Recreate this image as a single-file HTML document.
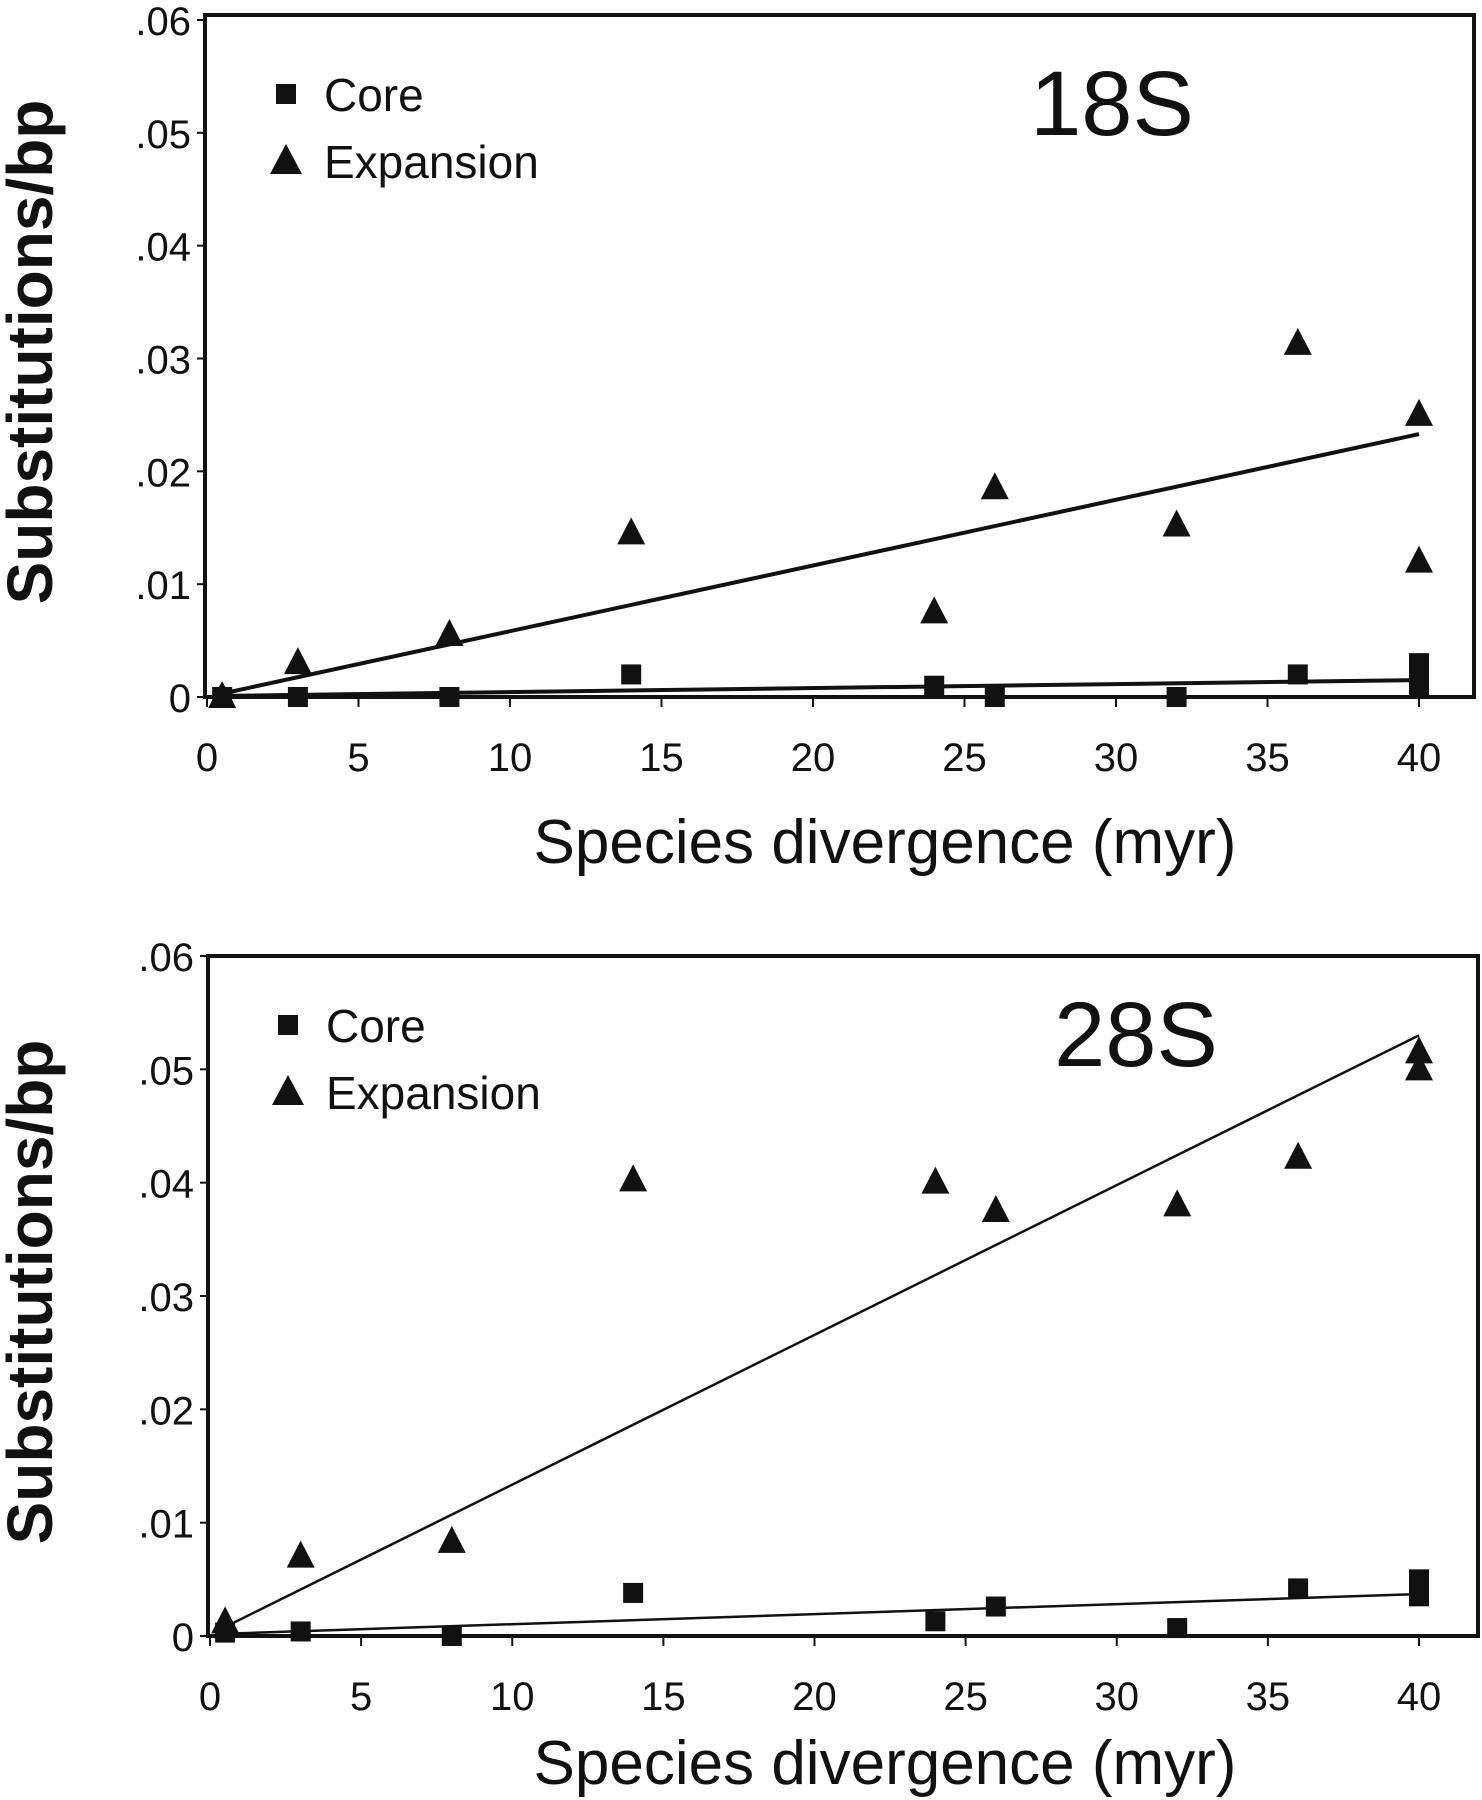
<!DOCTYPE html>
<html><head><meta charset="utf-8"><style>
html,body{margin:0;padding:0;background:#fff}
svg{display:block}
text{font-family:"Liberation Sans Narrow","Liberation Sans",sans-serif;fill:#111}
</style></head><body>
<svg id="fig" width="1482" height="1800" viewBox="0 0 1482 1800" xmlns="http://www.w3.org/2000/svg"></svg>
<script>
const xTicks = [0,5,10,15,20,25,30,35,40];
const yTicks = [0,0.01,0.02,0.03,0.04,0.05,0.06];
const yTickLabels = ["0",".01",".02",".03",".04",".05",".06"];
// 18S
const s18CoreX = [0.5,3,8,14,24,26,32,36,40,40,40];
const s18CoreY = [0,0,0,0.002,0.001,0,0,0.002,0.003,0.0015,0.001];
const s18ExpX = [0.5,3,8,14,24,26,32,36,40,40];
const s18ExpY = [0,0.003,0.0055,0.0145,0.0075,0.0185,0.0152,0.0313,0.025,0.012];
const s18ExpFit = [[0.5,0.0003],[40,0.0233]];
const s18CoreFit = [[0.5,0.0001],[40,0.0015]];
// 28S
const s28CoreX = [0.5,3,8,14,24,26,32,36,40,40];
const s28CoreY = [0.0003,0.0004,0,0.0038,0.0013,0.0026,0.0007,0.0042,0.005,0.0035];
const s28ExpX = [0.5,3,8,14,24,26,32,36,40,40];
const s28ExpY = [0.0012,0.007,0.0083,0.0402,0.04,0.0375,0.038,0.0422,0.0515,0.05];
const s28ExpFit = [[0.5,0.0008],[40,0.053]];
const s28CoreFit = [[0.5,0.0002],[40,0.0037]];

const NS="http://www.w3.org/2000/svg";
const svg=document.getElementById('fig');
function mk(tag,attrs,parent){const e=document.createElementNS(NS,tag);for(const k in attrs)e.setAttribute(k,attrs[k]);(parent||svg).appendChild(e);return e;}

function panel(cfg){
  const g=mk('g',{});
  
  
  const sx=v=>cfg.x0+(cfg.x40-cfg.x0)*v/40;
  const sy=v=>cfg.y0+(cfg.y6-cfg.y0)*v/0.06;
  const frame=mk('rect',{x:cfg.x0-2,y:cfg.top,width:cfg.right-cfg.x0+2,height:cfg.y0-cfg.top,fill:'none',stroke:'#111','stroke-width':4},g);
  
  
  yTicks.forEach((t,i)=>{
    const y=sy(t);
    mk('line',{x1:cfg.x0-10,x2:cfg.x0,y1:y,y2:y,stroke:'#111','stroke-width':2},g);
    const tx=mk('text',{x:cfg.x0-16,y:y+15,'text-anchor':'end','font-size':40},g);
    tx.textContent=yTickLabels[i];
    
    
  });
  xTicks.forEach(t=>{
    const x=sx(t);
    mk('line',{x1:x,x2:x,y1:cfg.y0,y2:cfg.y0+10,stroke:'#111','stroke-width':2},g);
    const tx=mk('text',{x:x,y:cfg.y0+74,'text-anchor':'middle','font-size':40},g);
    tx.textContent=String(t);
    
    
  });
  [[cfg.expFit,'expansion-trend-line'],[cfg.coreFit,'core-trend-line']].forEach(([f,n])=>{
    const l=mk('line',{x1:sx(f[0][0]),y1:sy(f[0][1]),x2:sx(f[1][0]),y2:sy(f[1][1]),stroke:'#111','stroke-width':cfg.lw},g);
    
    
  });
  cfg.coreX.forEach((xv,i)=>{
    const x=sx(xv),y=sy(cfg.coreY[i]);
    const r=mk('rect',{x:x-10,y:y-10,width:20,height:20,fill:'#111'},g);
    
    
  });
  cfg.expX.forEach((xv,i)=>{
    const x=sx(xv),y=sy(cfg.expY[i]);
    const p=mk('polygon',{points:`${x},${y-16} ${x-14},${y+11} ${x+14},${y+11}`,fill:'#111'},g);
    
    
  });
  const lx=cfg.legX, ly=cfg.legY;
  const ls=mk('rect',{x:lx-10,y:ly-10,width:20,height:20,fill:'#111'},g);
  
  
  const lt=mk('text',{x:lx+38,y:ly+17,'font-size':46},g);lt.textContent='Core';
  
  
  const lp=mk('polygon',{points:`${lx},${ly+50} ${lx-16},${ly+80} ${lx+16},${ly+80}`,fill:'#111'},g);
  
  
  const le=mk('text',{x:lx+38,y:ly+84,'font-size':46},g);le.textContent='Expansion';
  
  
  const ti=mk('text',{x:cfg.titleX,y:cfg.titleY,'font-size':92,'text-anchor':'middle'},g);ti.textContent=cfg.name;
  
  
  const xt=mk('text',{x:885,y:cfg.y0+cfg.xtOff,'font-size':62,'text-anchor':'middle'},g);xt.textContent='Species divergence (myr)';
  
  
  const cy=(cfg.top+cfg.y0)/2-4;
  const yt=mk('text',{x:0,y:0,'font-size':64,'font-weight':'bold','text-anchor':'middle',transform:`translate(52,${cy}) rotate(-90)`,'font-family':'Liberation Sans, sans-serif'},g);
  yt.textContent='Substitutions/bp';
  
  
}
panel({name:'18S',x0:207,x40:1419,right:1474,top:15,y0:697,y6:20,lw:4,xtOff:166,
  coreX:s18CoreX,coreY:s18CoreY,expX:s18ExpX,expY:s18ExpY,expFit:s18ExpFit,coreFit:s18CoreFit,
  legX:286,legY:94,titleX:1112,titleY:135});
panel({name:'28S',x0:210,x40:1419,right:1478,top:956,y0:1636,y6:956,lw:2.5,xtOff:148,
  coreX:s28CoreX,coreY:s28CoreY,expX:s28ExpX,expY:s28ExpY,expFit:s28ExpFit,coreFit:s28CoreFit,
  legX:288,legY:1025,titleX:1136,titleY:1066});
</script>
</body></html>
